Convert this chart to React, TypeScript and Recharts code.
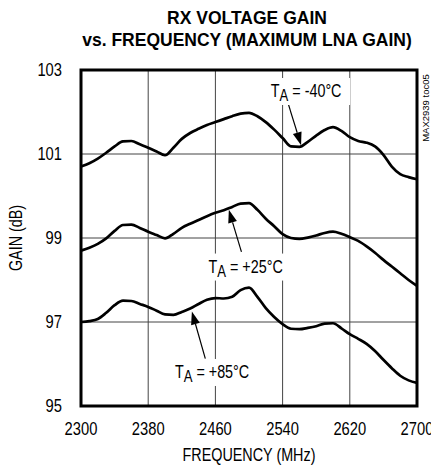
import React from 'react';
import {
  LineChart,
  Line,
  XAxis,
  YAxis,
  CartesianGrid,
  ReferenceArea,
  ReferenceLine,
  ReferenceDot,
} from 'recharts';

// ---- data ----
const frequencies = [
  2300, 2310, 2320, 2330, 2340, 2350, 2360, 2370, 2380, 2390, 2400, 2410, 2420, 2430,
  2440, 2450, 2460, 2470, 2480, 2490, 2500, 2510, 2520, 2530, 2540, 2550, 2560, 2570,
  2580, 2590, 2600, 2610, 2620, 2630, 2640, 2650, 2660, 2670, 2680, 2690, 2700,
];

const gainMinus40 = [
  100.7, 100.78, 100.89, 101.03, 101.18, 101.3, 101.31, 101.23, 101.15, 101.06, 100.97,
  101.15, 101.36, 101.5, 101.6, 101.69, 101.76, 101.83, 101.9, 101.96, 101.98, 101.9,
  101.76, 101.58, 101.38, 101.18, 101.17, 101.29, 101.44, 101.57, 101.64, 101.55, 101.4,
  101.31, 101.27, 101.18, 100.98, 100.7, 100.52, 100.45, 100.4,
];

const gainPlus25 = [
  98.7, 98.77, 98.86, 98.99, 99.17, 99.31, 99.32, 99.24, 99.15, 99.07, 98.99, 99.1, 99.24,
  99.34, 99.43, 99.52, 99.6, 99.66, 99.74, 99.82, 99.83, 99.67, 99.46, 99.28, 99.09, 99.0,
  98.98, 99.01, 99.06, 99.12, 99.15, 99.1, 99.02, 98.93, 98.8, 98.65, 98.48, 98.32, 98.16,
  98.0, 97.86,
];

const gainPlus85 = [
  97.0, 97.02, 97.07, 97.22, 97.4, 97.51, 97.5, 97.43, 97.36, 97.27, 97.18, 97.17, 97.24,
  97.32, 97.43, 97.53, 97.57, 97.56, 97.6, 97.76, 97.82, 97.6, 97.33, 97.12, 96.95, 96.84,
  96.83, 96.86, 96.9, 96.96, 96.97, 96.85, 96.71, 96.6, 96.48, 96.31, 96.1, 95.9, 95.72,
  95.61, 95.55,
];

const xTicks = [2300, 2380, 2460, 2540, 2620, 2700];
const yTicks = [95, 97, 99, 101, 103];

const tempLabels = ['-40°C', '+25°C', '+85°C'];
const labelAt = [
  [2568, 102.5],
  [2496, 98.32],
  [2456, 95.81],
];
const arrowFrom = [
  [2546, 102.24],
  [2491, 98.67],
  [2448, 96.13],
];
const arrowTo = [
  [2562, 101.21],
  [2476, 99.67],
  [2432, 97.25],
];

const chartData = frequencies.map((f, i) => ({
  f,
  m40: gainMinus40[i],
  p25: gainPlus25[i],
  p85: gainPlus85[i],
}));

const FONT = "'Liberation Sans', Arial, sans-serif";
// the plot's lettering is a narrow sans: Arial squeezed to 82%
const NARROW = 0.82;

const XTick = (props: any) => {
  const { x, y, payload } = props;
  return (
    <g transform={`translate(${x},${y}) scale(${NARROW},1)`}>
      <text x={0} y={0} dy="0.71em" textAnchor="middle" fontFamily={FONT} fontSize={18} fill="#000">
        {payload.value}
      </text>
    </g>
  );
};

const YTick = (props: any) => {
  const { x, y, payload } = props;
  return (
    <g transform={`translate(${x},${y}) scale(${NARROW},1)`}>
      <text x={0} y={0} dy="0.355em" textAnchor="end" fontFamily={FONT} fontSize={18} fill="#000">
        {payload.value}
      </text>
    </g>
  );
};

// arrow with a filled head at the (x2, y2) end
const Arrow = (props: any) => {
  const { x1, y1, x2, y2 } = props;
  const ang = Math.atan2(y2 - y1, x2 - x1);
  const len = 13;
  const half = 4.5;
  const bx = x2 - len * Math.cos(ang);
  const by = y2 - len * Math.sin(ang);
  const px = -Math.sin(ang) * half;
  const py = Math.cos(ang) * half;
  return (
    <g>
      <line x1={x1} y1={y1} x2={bx} y2={by} stroke="#000" strokeWidth={1.2} />
      <polygon
        points={`${x2},${y2} ${bx + px},${by + py} ${bx - px},${by - py}`}
        fill="#000"
      />
    </g>
  );
};

const TempLabel = (props: any) => {
  const { cx, cy, text } = props;
  return (
    <g>
      <rect x={cx - 44} y={cy - 13} width={88} height={27} fill="#fff" />
      <g transform={`translate(${cx},${cy + 6}) scale(${NARROW},1)`}>
        <text x={0} y={0} textAnchor="middle" fontFamily={FONT} fontSize={17.5} fill="#000">
          <tspan>T</tspan>
          <tspan dy={4} fontSize={16}>A</tspan>
          <tspan dy={-4}>{` = ${text}`}</tspan>
        </text>
      </g>
    </g>
  );
};

export default function App() {
  return (
    <div
      style={{
        position: 'absolute',
        left: 0,
        top: 0,
        width: 431,
        height: 470,
        overflow: 'hidden',
        background: '#fff',
        fontFamily: FONT,
        color: '#000',
      }}
    >
      {/* title */}
      <div
        style={{
          position: 'absolute',
          left: 0,
          top: 6.5,
          width: 494,
          textAlign: 'center',
          fontWeight: 700,
          fontSize: 17.5,
          lineHeight: '22.7px',
        }}
      >
        RX VOLTAGE GAIN
        <br />
        vs. FREQUENCY (MAXIMUM LNA GAIN)
      </div>

      <LineChart
        width={431}
        height={470}
        data={chartData}
        margin={{ top: 70, right: 14, bottom: 34, left: 0 }}
      >
        <CartesianGrid stroke="#444" strokeWidth={1} />
        <XAxis
          dataKey="f"
          type="number"
          domain={[2300, 2700]}
          ticks={xTicks}
          interval={0}
          height={30}
          axisLine={false}
          tickLine={false}
          tickSize={6}
          tickMargin={10}
          tick={<XTick />}
        />
        <YAxis
          type="number"
          domain={[95, 103]}
          ticks={yTicks}
          interval={0}
          width={81}
          axisLine={false}
          tickLine={false}
          tickSize={6}
          tickMargin={13}
          tick={<YTick />}
        />
        <Line type="monotone" dataKey="m40" stroke="#000" strokeWidth={2.7} dot={false} isAnimationActive={false} />
        <Line type="monotone" dataKey="p25" stroke="#000" strokeWidth={2.7} dot={false} isAnimationActive={false} />
        <Line type="monotone" dataKey="p85" stroke="#000" strokeWidth={2.7} dot={false} isAnimationActive={false} />

        {tempLabels.map((t, i) => (
          <ReferenceDot
            key={`lbl-${i}`}
            x={labelAt[i][0]}
            y={labelAt[i][1]}
            r={0}
            shape={(p: any) => <TempLabel {...p} text={t} />}
          />
        ))}
        {tempLabels.map((t, i) => (
          <ReferenceLine
            key={`arr-${i}`}
            segment={[
              { x: arrowFrom[i][0], y: arrowFrom[i][1] },
              { x: arrowTo[i][0], y: arrowTo[i][1] },
            ]}
            shape={(p: any) => <Arrow {...p} />}
          />
        ))}

        <ReferenceArea
          x1={2300}
          x2={2700}
          y1={95}
          y2={103}
          fill="none"
          fillOpacity={0}
          stroke="#000"
          strokeWidth={3}
        />
      </LineChart>

      {/* axis titles */}
      <div
        style={{
          position: 'absolute',
          left: 149,
          top: 444,
          width: 200,
          textAlign: 'center',
          fontSize: 17.5,
          lineHeight: '22px',
          transform: `scaleX(${NARROW})`,
        }}
      >
        FREQUENCY (MHz)
      </div>
      <div
        style={{
          position: 'absolute',
          left: 16 - 60,
          top: 238 - 11,
          width: 120,
          textAlign: 'center',
          fontSize: 17.5,
          lineHeight: '22px',
          transform: `rotate(-90deg) scaleX(${NARROW})`,
        }}
      >
        GAIN (dB)
      </div>
      <div
        style={{
          position: 'absolute',
          left: 426 - 50,
          top: 108 - 6,
          width: 100,
          textAlign: 'center',
          fontSize: 9.5,
          lineHeight: '12px',
          transform: 'rotate(-90deg)',
        }}
      >
        MAX2939 toc05
      </div>
    </div>
  );
}
